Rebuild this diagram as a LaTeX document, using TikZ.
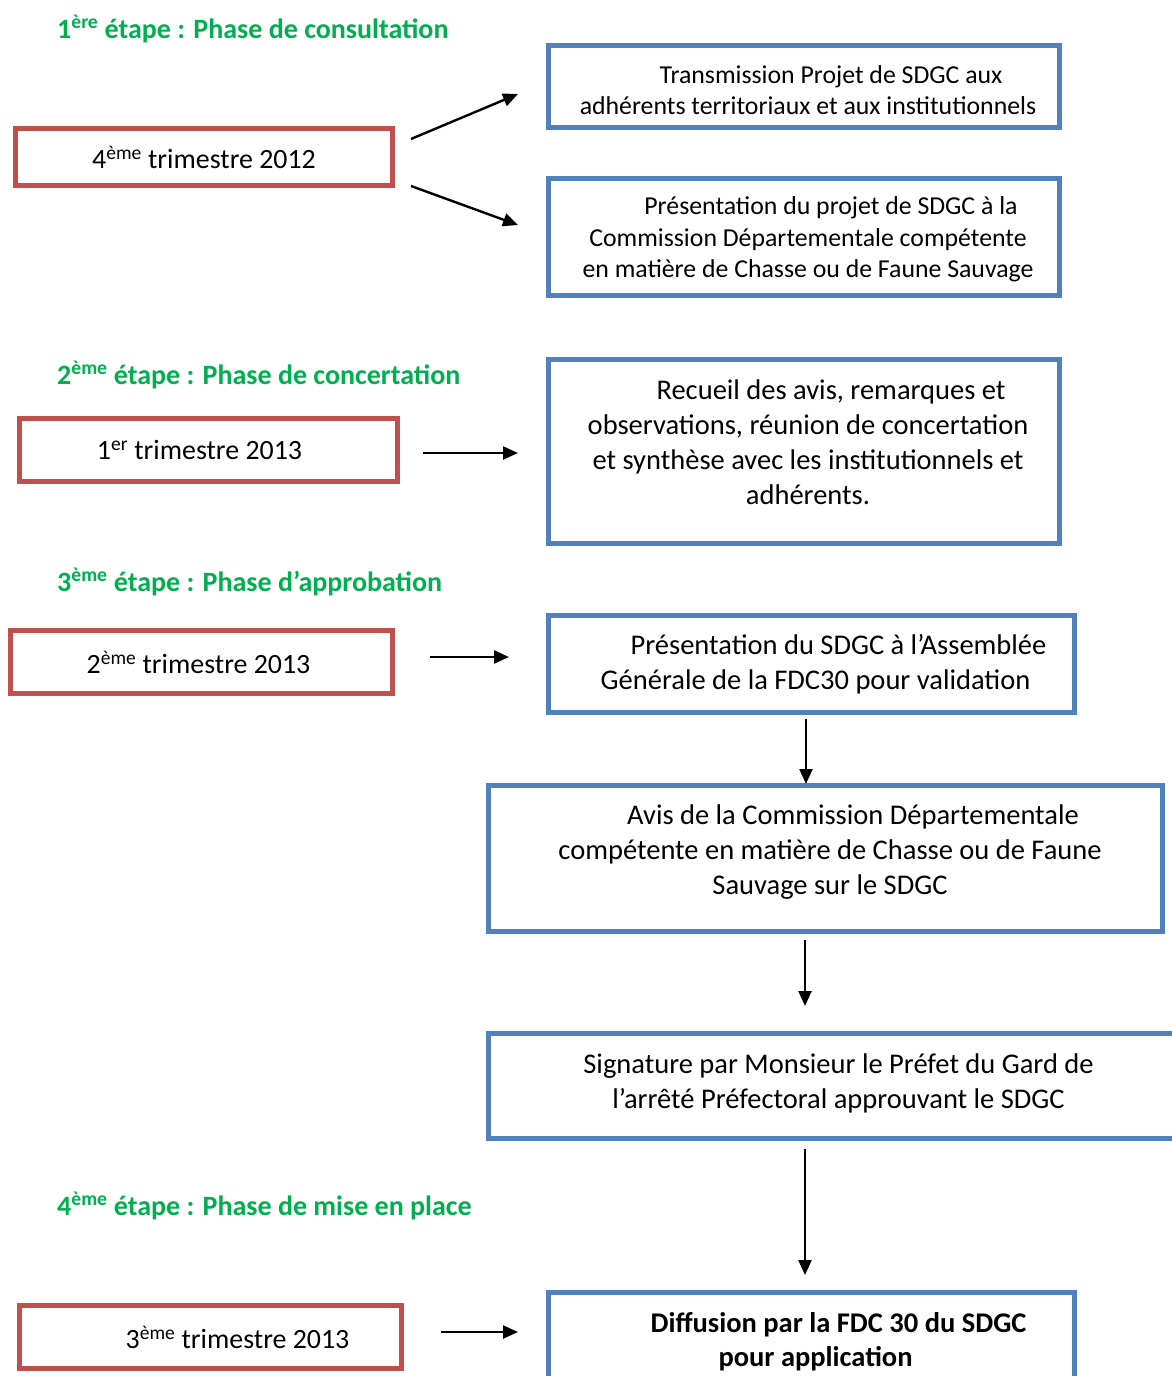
\documentclass[tikz,border=0pt]{standalone}
\usepackage{fontspec}
\setmainfont{Carlito}
\usetikzlibrary{arrows.meta}
\definecolor{rbord}{RGB}{192,80,77}
\definecolor{bbord}{RGB}{79,129,189}
\definecolor{hgreen}{RGB}{0,176,80}
\begin{document}
\begin{tikzpicture}[x=1pt,y=-1pt,
  redbox/.style={draw=rbord, line width=5pt, inner sep=0pt, font=\fontsize{27.9}{32}\selectfont},
  bluebox/.style={draw=bbord, line width=5pt, inner sep=0pt},
  smalltxt/.style={align=center, inner sep=0pt, font=\fontsize{25.8}{31.5}\selectfont},
  bigtxt/.style={align=center, inner sep=0pt, font=\fontsize{28.5}{35}\selectfont},
  heading/.style={anchor=base west, inner sep=0pt, text=hgreen, font=\bfseries\fontsize{28}{32}\selectfont},
  arr/.style={line width=2.4pt, -{Triangle[length=15pt,width=13pt]}}]
\useasboundingbox (0,0) rectangle (1171,1376);

% headings
\node[heading] (h1) at (57,38) {1\textsuperscript{ère} étape : Phase de consultation};
\node[heading] (h2) at (57,384) {2\textsuperscript{ème} étape : Phase de concertation};
\node[heading] (h3) at (57,591) {3\textsuperscript{ème} étape : Phase d’approbation};
\node[heading] (h4) at (57,1215) {4\textsuperscript{ème} étape : Phase de mise en place};

% red boxes
\node[redbox, minimum width=377pt, minimum height=57pt] (r1) at (204,157) {4\textsuperscript{ème} trimestre 2012};
\node[redbox, minimum width=378pt, minimum height=63pt] (r2) at (208.5,450) {1\textsuperscript{er} trimestre 2013\hspace*{18pt}};
\node[redbox, minimum width=382pt, minimum height=63pt] (r3) at (201.5,662) {2\textsuperscript{ème} trimestre 2013\hspace*{6pt}};
\node[redbox, minimum width=382pt, minimum height=63pt] (r4) at (210.5,1337) {\hspace*{54pt}3\textsuperscript{ème} trimestre 2013};

% blue boxes
\node[bluebox, minimum width=511pt, minimum height=82pt] (b1) at (804,86.5) {};
\node[bluebox, minimum width=511pt, minimum height=117pt] (b2) at (804,237) {};
\node[bluebox, minimum width=511pt, minimum height=184pt] (b3) at (804,451.5) {};
\node[bluebox, minimum width=526pt, minimum height=97pt] (b4) at (811.5,664) {};
\node[bluebox, minimum width=674pt, minimum height=146pt] (b5) at (825.5,858.5) {};
\node[bluebox, minimum width=699pt, minimum height=105pt] (b6) at (838,1086) {};
\node[bluebox, minimum width=526pt, minimum height=105pt] (b7) at (811.5,1345) {};

% blue box texts
\node[smalltxt] (t1) at (808,90) {\hspace*{46pt}Transmission Projet de SDGC aux\\adhérents territoriaux et aux institutionnels};
\node[smalltxt] (t2) at (808,239.5) {\hspace*{46pt}Présentation du projet de SDGC à la\\Commission Départementale compétente\\en matière de Chasse ou de Faune Sauvage};
\node[bigtxt] (t3) at (808,442.5) {\hspace*{46pt}Recueil des avis, remarques et\\observations, réunion de concertation\\et synthèse avec les institutionnels et\\adhérents.};
\node[bigtxt] (t4) at (815.5,664.5) {\hspace*{46pt}Présentation du SDGC à l’Assemblée\\Générale de la FDC30 pour validation};
\node[bigtxt] (t5) at (830,852.5) {\hspace*{46pt}Avis de la Commission Départementale\\compétente en matière de Chasse ou de Faune\\Sauvage sur le SDGC};
\node[bigtxt] (t6) at (838.5,1083) {Signature par Monsieur le Préfet du Gard de\\l’arrêté Préfectoral approuvant le SDGC};
\node[bigtxt, font=\bfseries\fontsize{28.5}{34}\selectfont] (t7) at (815.5,1342) {\hspace*{46pt}Diffusion par la FDC 30 du SDGC\\pour application};

% arrow end points
\coordinate (a1s) at (411,139); \coordinate (a1e) at (518,94);
\coordinate (a2s) at (411,186); \coordinate (a2e) at (518,225);
\coordinate (a3s) at (423,453); \coordinate (a3e) at (518,453);
\coordinate (a4s) at (430,657); \coordinate (a4e) at (509,657);
\coordinate (a5s) at (806,719); \coordinate (a5e) at (806,784);
\coordinate (a6s) at (805,940); \coordinate (a6e) at (805,1006);
\coordinate (a7s) at (805,1149); \coordinate (a7e) at (805,1275);
\coordinate (a8s) at (441,1332); \coordinate (a8e) at (518,1332);

\draw[arr] (a1s) -- (a1e);
\draw[arr] (a2s) -- (a2e);
\draw[arr] (a3s) -- (a3e);
\draw[arr] (a4s) -- (a4e);
\draw[arr] (a5s) -- (a5e);
\draw[arr] (a6s) -- (a6e);
\draw[arr] (a7s) -- (a7e);
\draw[arr] (a8s) -- (a8e);
\end{tikzpicture}
\end{document}
